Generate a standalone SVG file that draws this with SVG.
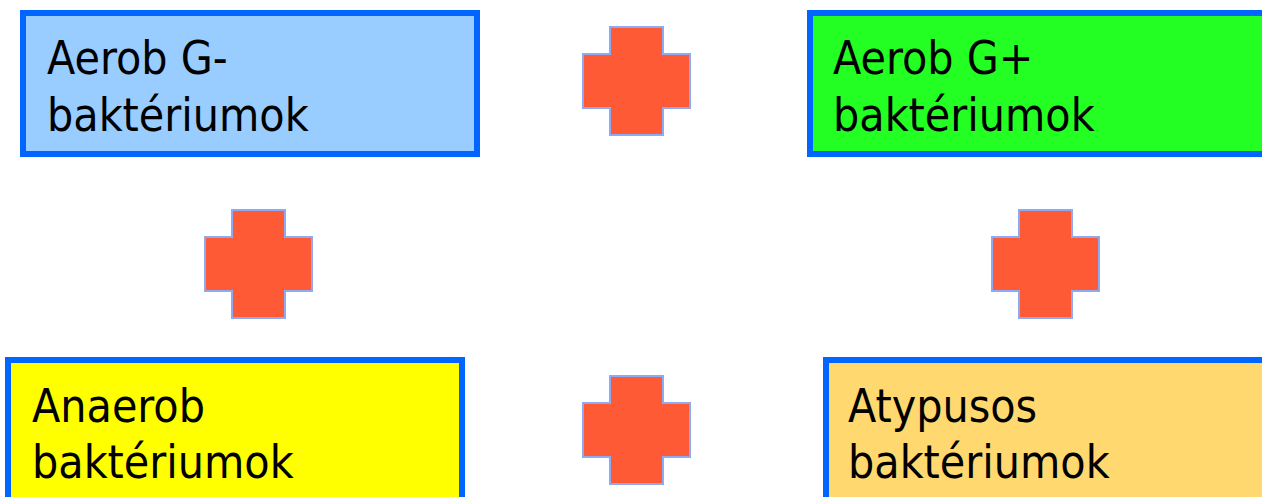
<svg xmlns="http://www.w3.org/2000/svg" width="1262" height="497" viewBox="0 0 1262 497">
<style>
.box{stroke:#0066ff;stroke-width:6}
.lbl{font-family:"DejaVu Sans Condensed","DejaVu Sans",sans-serif;font-stretch:condensed;font-size:46px;fill:#000}
.cross{fill:#ff5a36;stroke:#8eaaf2;stroke-width:2}
</style>
<defs>
<path id="plus" d="M27,0H80V27H107V81H80V108H27V81H0V27H27Z"/>
</defs>
<g id="node-aerob-gneg">
<rect class="box" x="23" y="13" width="454" height="141" fill="#99ccff"/>
<text class="lbl" x="47" y="74">Aerob G-</text>
<text class="lbl" x="47" y="131">baktériumok</text>
</g>
<g id="node-aerob-gpos">
<rect class="box" x="810" y="13" width="460" height="141" fill="#23ff23"/>
<text class="lbl" x="833" y="74">Aerob G+</text>
<text class="lbl" x="833" y="131">baktériumok</text>
</g>
<g id="node-anaerob">
<rect class="box" x="8" y="360" width="454" height="150" fill="#ffff00"/>
<text class="lbl" x="32" y="422">Anaerob</text>
<text class="lbl" x="32" y="478">baktériumok</text>
</g>
<g id="node-atypusos">
<rect class="box" x="826" y="360" width="450" height="150" fill="#ffd86f"/>
<text class="lbl" x="848" y="422">Atypusos</text>
<text class="lbl" x="848" y="478">baktériumok</text>
</g>
<g id="connectors">
<use href="#plus" class="cross" x="583" y="27"/>
<use href="#plus" class="cross" x="205" y="210"/>
<use href="#plus" class="cross" x="992" y="210"/>
<use href="#plus" class="cross" x="583" y="376"/>
</g>
</svg>
